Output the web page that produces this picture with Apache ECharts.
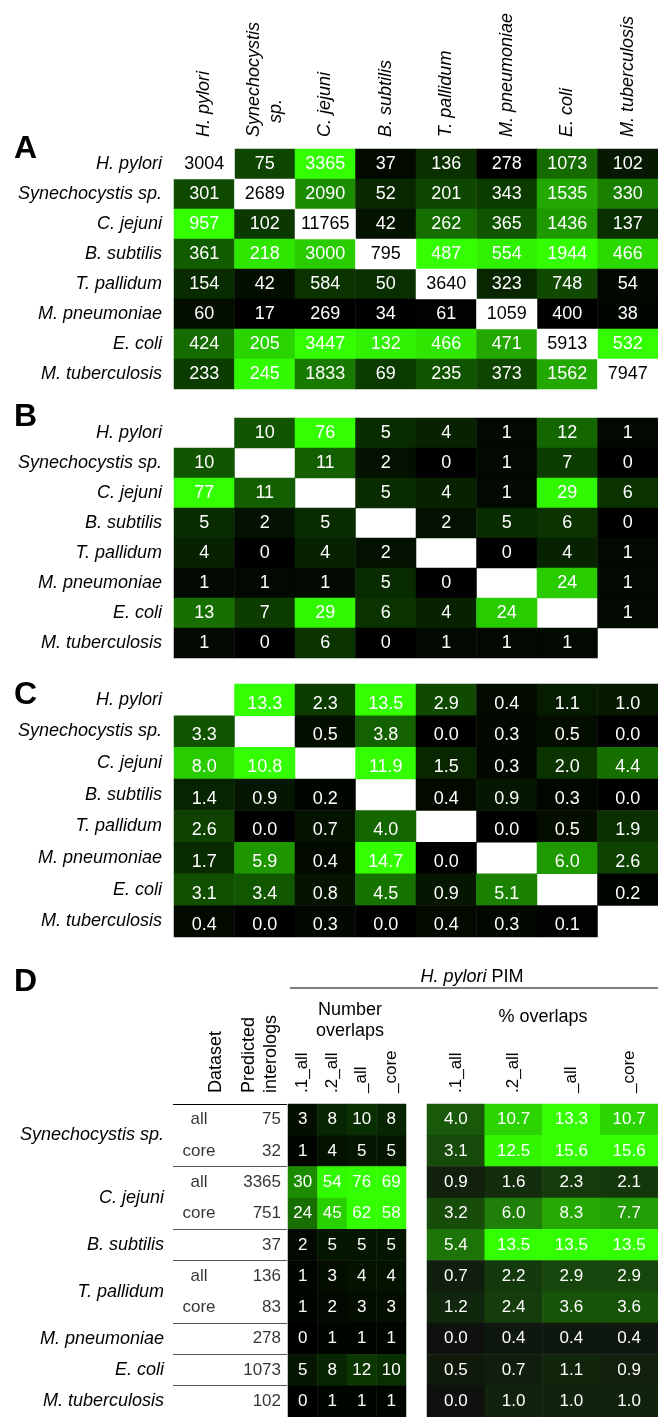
<!DOCTYPE html>
<html>
<head>
<meta charset="utf-8">
<title>Interolog overlaps</title>
<script src="https://cdn.jsdelivr.net/npm/echarts@6/dist/echarts.min.js"></script>
<style>
html, body { margin: 0; padding: 0; background: #fff; }
#main { width: 658px; height: 1417px; }
</style>
</head>
<body>
<div id="main"></div>
<script>
var species = ['H. pylori', 'Synechocystis sp.', 'C. jejuni', 'B. subtilis', 'T. pallidum', 'M. pneumoniae', 'E. coli', 'M. tuberculosis'];

// A: predicted interologs (diagonal = size of own PIM)
var aValues = [
  [3004, 75, 3365, 37, 136, 278, 1073, 102],
  [301, 2689, 2090, 52, 201, 343, 1535, 330],
  [957, 102, 11765, 42, 262, 365, 1436, 137],
  [361, 218, 3000, 795, 487, 554, 1944, 466],
  [154, 42, 584, 50, 3640, 323, 748, 54],
  [60, 17, 269, 34, 61, 1059, 400, 38],
  [424, 205, 3447, 132, 466, 471, 5913, 532],
  [233, 245, 1833, 69, 235, 373, 1562, 7947]
];
// A: shade of each cell (0 = black, 1 = full green)
var aShade = [
  [0, 0.27, 1.0, 0.04, 0.19, 0.0, 0.42, 0.10],
  [0.29, 0, 0.55, 0.16, 0.28, 0.23, 0.66, 0.50],
  [1.0, 0.22, 0, 0.07, 0.43, 0.33, 0.60, 0.18],
  [0.36, 0.90, 0.80, 0, 1.0, 0.95, 1.0, 0.85],
  [0.17, 0.05, 0.20, 0.18, 0, 0.15, 0.29, 0.03],
  [0.05, 0.0, 0.0, 0.0, 0.01, 0, 0.0, 0.02],
  [0.42, 0.83, 1.0, 0.95, 0.90, 0.66, 0, 1.0],
  [0.24, 0.98, 0.48, 0.23, 0.33, 0.27, 0.66, 0]
];
// B: number of overlaps
var bValues = [
  [null, 10, 76, 5, 4, 1, 12, 1],
  [10, null, 11, 2, 0, 1, 7, 0],
  [77, 11, null, 5, 4, 1, 29, 6],
  [5, 2, 5, null, 2, 5, 6, 0],
  [4, 0, 4, 2, null, 0, 4, 1],
  [1, 1, 1, 5, 0, null, 24, 1],
  [13, 7, 29, 6, 4, 24, null, 1],
  [1, 0, 6, 0, 1, 1, 1, null]
];
// C: % overlaps
var cValues = [
  [null, 13.3, 2.3, 13.5, 2.9, 0.4, 1.1, 1.0],
  [3.3, null, 0.5, 3.8, 0.0, 0.3, 0.5, 0.0],
  [8.0, 10.8, null, 11.9, 1.5, 0.3, 2.0, 4.4],
  [1.4, 0.9, 0.2, null, 0.4, 0.9, 0.3, 0.0],
  [2.6, 0.0, 0.7, 4.0, null, 0.0, 0.5, 1.9],
  [1.7, 5.9, 0.4, 14.7, 0.0, null, 6.0, 2.6],
  [3.1, 3.4, 0.8, 4.5, 0.9, 5.1, null, 0.2],
  [0.4, 0.0, 0.3, 0.0, 0.4, 0.3, 0.1, null]
];

// D: overlaps with the H. pylori PIM
var dGroups = ['Synechocystis sp.', 'C. jejuni', 'B. subtilis', 'T. pallidum', 'M. pneumoniae', 'E. coli', 'M. tuberculosis'];
var dGroupRows = [[0, 1], [2, 3], [4, 4], [5, 6], [7, 7], [8, 8], [9, 9]];
var dDataset = ['all', 'core', 'all', 'core', '', 'all', 'core', '', '', ''];
var dPredicted = [75, 32, 3365, 751, 37, 136, 83, 278, 1073, 102];
var dCols = ['.1_all', '.2_all', '_all', '_core'];
var dNumber = [
  [3, 8, 10, 8],
  [1, 4, 5, 5],
  [30, 54, 76, 69],
  [24, 45, 62, 58],
  [2, 5, 5, 5],
  [1, 3, 4, 4],
  [1, 2, 3, 3],
  [0, 1, 1, 1],
  [5, 8, 12, 10],
  [0, 1, 1, 1]
];
var dPercent = [
  [4.0, 10.7, 13.3, 10.7],
  [3.1, 12.5, 15.6, 15.6],
  [0.9, 1.6, 2.3, 2.1],
  [3.2, 6.0, 8.3, 7.7],
  [5.4, 13.5, 13.5, 13.5],
  [0.7, 2.2, 2.9, 2.9],
  [1.2, 2.4, 3.6, 3.6],
  [0.0, 0.4, 0.4, 0.4],
  [0.5, 0.7, 1.1, 0.9],
  [0.0, 1.0, 1.0, 1.0]
];

var FONT = 'Liberation Sans, Arial, sans-serif';
var GREEN = ['#000000', '#33ff00'];

function cells(matrix, shade) {
  var out = [];
  matrix.forEach(function (row, i) {
    row.forEach(function (v, j) {
      if (v === null || (shade && i === j)) return;
      out.push(shade ? [j, i, v, shade[i][j]] : [j, i, v]);
    });
  });
  return out;
}

var aDiag = species.map(function (s, i) { return [i, i, aValues[i][i]]; });

var groupLabelAt = {};
dGroups.forEach(function (g, k) {
  var r = dGroupRows[k];
  groupLabelAt[(r[0] + r[1] + 1) / 2] = g;
});

function catAxis(gridIndex, data, opts) {
  return Object.assign({
    type: 'category', gridIndex: gridIndex, data: data,
    axisLine: { show: false }, axisTick: { show: false }, splitLine: { show: false }
  }, opts);
}

var rowAxisLabel = { fontSize: 18, fontStyle: 'italic', color: '#000', margin: 12 };

function heatLabel(dec, size, offset) {
  return {
    show: true, color: '#fff', fontSize: size || 18,
    offset: offset || [0, 0],
    formatter: function (p) { return dec ? p.value[2].toFixed(dec) : String(p.value[2]); }
  };
}

var chart = echarts.init(document.getElementById('main'));
chart.setOption({
  animation: false,
  textStyle: { fontFamily: FONT },
  grid: [
    { left: 174, top: 149, width: 485, height: 240 },
    { left: 174, top: 418, width: 485, height: 240 },
    { left: 174, top: 684, width: 485, height: 253 },
    { left: 288, top: 1104, width: 118, height: 313 },
    { left: 427, top: 1104, width: 239, height: 313 },
    { left: 173, top: 1104, width: 114, height: 313 }
  ],
  xAxis: [
    catAxis(0, species, {
      position: 'top',
      axisLabel: {
        rotate: -90, fontSize: 18, fontStyle: 'italic', color: '#000', margin: 12,
        formatter: function (v) {
          return v === 'Synechocystis sp.' ? '{n|Synechocystis}\n{c|sp.}' : '{n|' + v + '}';
        },
        rich: {
          n: { fontSize: 18, fontStyle: 'italic', color: '#000', lineHeight: 22 },
          c: { fontSize: 18, fontStyle: 'italic', color: '#000', lineHeight: 22, padding: [0, 0, 0, 14] }
        }
      }
    }),
    catAxis(1, species, { show: false }),
    catAxis(2, species, { show: false }),
    catAxis(3, dCols, { position: 'top', axisLabel: { rotate: -90, fontSize: 17, color: '#000', margin: 11 } }),
    catAxis(4, dCols, { position: 'top', axisLabel: { rotate: -90, fontSize: 17, color: '#000', margin: 11 } }),
    { type: 'value', gridIndex: 5, min: 0, max: 114, show: false }
  ],
  yAxis: [
    catAxis(0, species, { inverse: true, axisLabel: rowAxisLabel }),
    catAxis(1, species, { inverse: true, axisLabel: rowAxisLabel }),
    catAxis(2, species, { inverse: true, axisLabel: rowAxisLabel }),
    catAxis(3, dDataset.map(function (d, i) { return 'r' + i; }), { inverse: true, axisLabel: { show: false } }),
    catAxis(4, dDataset.map(function (d, i) { return 'r' + i; }), { inverse: true, axisLabel: { show: false } }),
    {
      type: 'value', gridIndex: 5, min: 0, max: 10, interval: 0.5, inverse: true,
      axisLine: { show: false }, axisTick: { show: false }, splitLine: { show: false },
      axisLabel: {
        fontSize: 18, fontStyle: 'italic', color: '#000', margin: 9,
        showMinLabel: true, showMaxLabel: true,
        formatter: function (v) { return groupLabelAt[v] || ''; }
      }
    }
  ],
  visualMap: [
    { type: 'continuous', show: false, seriesIndex: 0, dimension: 3, min: 0, max: 1, inRange: { color: GREEN } },
    { type: 'continuous', show: false, seriesIndex: 2, dimension: 2, min: 0, max: 30, inRange: { color: GREEN } },
    { type: 'continuous', show: false, seriesIndex: 3, dimension: 2, min: 0, max: 10, inRange: { color: GREEN } },
    { type: 'continuous', show: false, seriesIndex: 4, dimension: 2, min: 0, max: 55, inRange: { color: GREEN } },
    { type: 'continuous', show: false, seriesIndex: 5, dimension: 2, min: 0, max: 13, inRange: { color: ['#0e110e', '#33ff00'] } }
  ],
  series: [
    { type: 'heatmap', xAxisIndex: 0, yAxisIndex: 0, data: cells(aValues, aShade), label: heatLabel(0), emphasis: { disabled: true } },
    {
      type: 'heatmap', xAxisIndex: 0, yAxisIndex: 0, data: aDiag,
      itemStyle: { color: '#fff' },
      label: { show: true, color: '#000', fontSize: 18, formatter: function (p) { return p.value[2]; } },
      emphasis: { disabled: true }
    },
    { type: 'heatmap', xAxisIndex: 1, yAxisIndex: 1, data: cells(bValues), label: heatLabel(0), emphasis: { disabled: true } },
    { type: 'heatmap', xAxisIndex: 2, yAxisIndex: 2, data: cells(cValues), label: heatLabel(1, 18, [0, 4]), emphasis: { disabled: true } },
    { type: 'heatmap', xAxisIndex: 3, yAxisIndex: 3, data: cells(dNumber), label: heatLabel(0, 17), emphasis: { disabled: true } },
    { type: 'heatmap', xAxisIndex: 4, yAxisIndex: 4, data: cells(dPercent), label: heatLabel(1, 17), emphasis: { disabled: true } },
    {
      type: 'scatter', xAxisIndex: 5, yAxisIndex: 5, symbolSize: 0, silent: true,
      data: dDataset.map(function (d, i) { return [26, i + 0.5, d]; }),
      label: { show: true, position: 'inside', color: '#000', fontSize: 17, formatter: function (p) { return p.value[2]; } },
      markLine: {
        silent: true, symbol: ['none', 'none'], label: { show: false },
        lineStyle: { color: '#555', width: 1, type: 'solid' },
        data: [{ yAxis: 0, lineStyle: { color: '#000' } }].concat(dGroupRows.slice(1).map(function (r) { return { yAxis: r[0] }; }))
      }
    },
    {
      type: 'scatter', xAxisIndex: 5, yAxisIndex: 5, symbolSize: 0, silent: true,
      data: dPredicted.map(function (v, i) { return [108, i + 0.5, v]; }),
      label: { show: true, position: 'inside', align: 'right', color: '#000', fontSize: 17, formatter: function (p) { return p.value[2]; } }
    }
  ],
  graphic: [
    { type: 'text', left: 14, top: 133, style: { text: 'A', font: 'bold 32px ' + FONT, fill: '#000' } },
    { type: 'text', left: 14, top: 401, style: { text: 'B', font: 'bold 32px ' + FONT, fill: '#000' } },
    { type: 'text', left: 14, top: 679, style: { text: 'C', font: 'bold 32px ' + FONT, fill: '#000' } },
    { type: 'text', left: 14, top: 966, style: { text: 'D', font: 'bold 32px ' + FONT, fill: '#000' } },
    {
      type: 'text', x: 472, y: 977,
      style: {
        text: '{i|H. pylori} PIM', fontSize: 18, fontFamily: FONT, fill: '#000', align: 'center', verticalAlign: 'middle',
        rich: { i: { fontStyle: 'italic', fontSize: 18, fontFamily: FONT } }
      }
    },
    { type: 'line', shape: { x1: 290, y1: 988, x2: 658, y2: 988 }, style: { stroke: '#000', lineWidth: 1 } },
    { type: 'text', x: 350, y: 1021, style: { text: 'Number\noverlaps', font: '18px ' + FONT, fill: '#000', align: 'center', verticalAlign: 'middle', lineHeight: 21 } },
    { type: 'text', x: 543, y: 1017, style: { text: '% overlaps', font: '18px ' + FONT, fill: '#000', align: 'center', verticalAlign: 'middle' } },
    { type: 'text', x: 216, y: 1093, rotation: Math.PI / 2, style: { text: 'Dataset', font: '18px ' + FONT, fill: '#000', align: 'left', verticalAlign: 'middle' } },
    { type: 'text', x: 260, y: 1093, rotation: Math.PI / 2, style: { text: 'Predicted\ninterologs', font: '18px ' + FONT, fill: '#000', align: 'left', verticalAlign: 'middle', lineHeight: 22 } }
  ]
});
</script>
</body>
</html>
